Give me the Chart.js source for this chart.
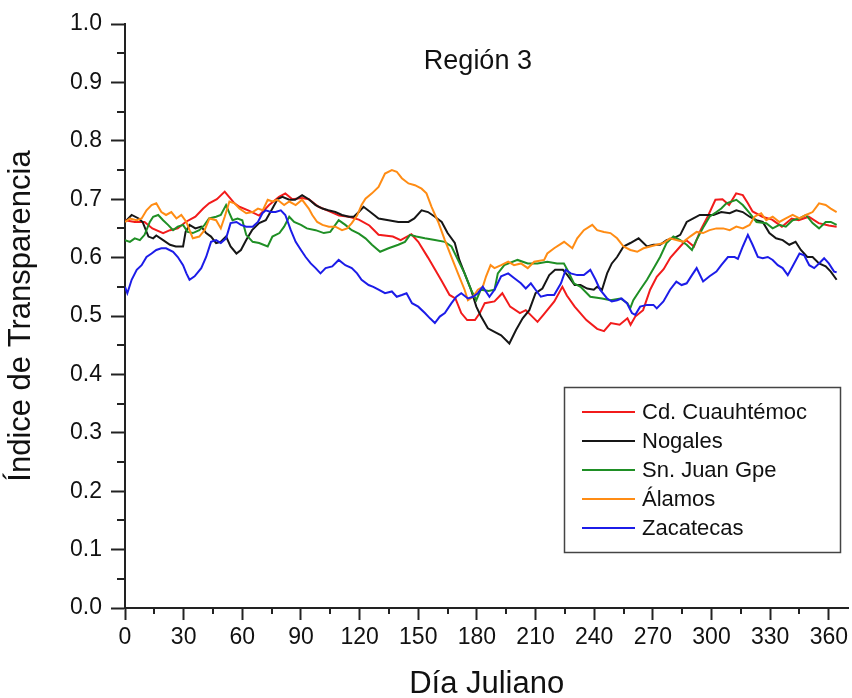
<!DOCTYPE html>
<html>
<head>
<meta charset="utf-8">
<script src="https://cdn.jsdelivr.net/npm/chart.js@4/dist/chart.umd.min.js"></script>
<style>
  html, body { margin: 0; padding: 0; background: #fff; }
  #wrap { width: 852px; height: 698px; }
</style>
</head>
<body>
<div id="wrap"><canvas id="chart" width="852" height="698"></canvas></div>
<script>
// values (day of year, transparency index)
const cuauhDays = [0, 5, 10, 14, 19.5, 23, 27, 31, 36, 40, 43, 47, 51, 53, 56, 58.5, 63.6, 68.6, 73.7, 78.8, 82, 85.6, 90.6, 94, 99, 104, 109.5, 114.6, 119.6, 125, 129.7, 137, 141, 146.5, 150, 155, 162, 166, 169, 172, 175, 179, 181.5, 184, 189, 193, 197, 202, 205, 211, 214, 219.6, 223.7, 226, 230, 236, 241.5, 245, 248.5, 253, 257, 258.6, 261, 265, 268.6, 272, 275.5, 279, 284, 287, 291, 294.4, 298, 302, 305.6, 309, 312.6, 316, 318.6, 321, 326, 331, 336, 341, 344.6, 349.7, 354.8, 360, 364];
const cuauhVals = [0.664, 0.661, 0.661, 0.650, 0.642, 0.647, 0.650, 0.661, 0.670, 0.684, 0.693, 0.700, 0.713, 0.705, 0.693, 0.687, 0.680, 0.672, 0.690, 0.704, 0.710, 0.700, 0.702, 0.700, 0.687, 0.680, 0.672, 0.670, 0.665, 0.655, 0.639, 0.636, 0.630, 0.640, 0.627, 0.600, 0.560, 0.536, 0.530, 0.505, 0.493, 0.493, 0.505, 0.522, 0.525, 0.539, 0.516, 0.505, 0.510, 0.490, 0.502, 0.525, 0.550, 0.535, 0.516, 0.493, 0.478, 0.474, 0.488, 0.485, 0.496, 0.485, 0.499, 0.510, 0.545, 0.567, 0.580, 0.600, 0.619, 0.630, 0.619, 0.647, 0.670, 0.699, 0.700, 0.690, 0.710, 0.707, 0.693, 0.679, 0.670, 0.665, 0.653, 0.667, 0.664, 0.670, 0.659, 0.655, 0.653];

const nogalesDays = [0, 3.4, 7, 9, 12, 14.4, 16, 19.5, 23, 26, 29.7, 31, 33, 36, 39, 41.5, 44, 46.6, 49, 51.7, 54, 57, 59.3, 62, 65, 68.6, 72, 75.4, 78, 80.5, 84, 87, 90.6, 94, 97.5, 101, 104, 107.6, 111, 114.5, 117, 119.6, 122, 126.3, 129.7, 134.8, 139.8, 145, 148, 151.7, 155, 158.5, 162, 165, 168.7, 171, 173.7, 177, 179.7, 182, 185.6, 189, 192.4, 196.6, 200, 203.4, 206.8, 210, 213.5, 217, 220, 224, 226.3, 230, 233, 236.4, 239.8, 241.5, 244, 246.6, 249, 251.7, 255, 258.5, 262.7, 267, 270.3, 273.7, 277, 280.5, 284, 287.3, 290.7, 294, 297.5, 301, 305, 309.3, 312.7, 316, 319.5, 323, 326.2, 329.6, 333, 336.4, 339.8, 343, 345.7, 349, 351.7, 355, 358.4, 361, 364];
const nogalesVals = [0.661, 0.673, 0.667, 0.661, 0.636, 0.633, 0.638, 0.630, 0.622, 0.619, 0.619, 0.644, 0.656, 0.650, 0.653, 0.642, 0.636, 0.625, 0.627, 0.636, 0.619, 0.607, 0.613, 0.630, 0.647, 0.659, 0.664, 0.684, 0.700, 0.704, 0.699, 0.699, 0.707, 0.700, 0.690, 0.684, 0.681, 0.678, 0.673, 0.670, 0.670, 0.678, 0.687, 0.676, 0.667, 0.664, 0.661, 0.661, 0.667, 0.681, 0.678, 0.670, 0.661, 0.642, 0.625, 0.596, 0.573, 0.545, 0.516, 0.500, 0.479, 0.473, 0.467, 0.453, 0.476, 0.496, 0.510, 0.539, 0.547, 0.570, 0.579, 0.579, 0.570, 0.553, 0.553, 0.547, 0.545, 0.550, 0.545, 0.573, 0.590, 0.601, 0.619, 0.625, 0.633, 0.619, 0.622, 0.622, 0.630, 0.633, 0.639, 0.661, 0.667, 0.673, 0.673, 0.673, 0.678, 0.676, 0.681, 0.678, 0.670, 0.664, 0.661, 0.642, 0.633, 0.630, 0.622, 0.627, 0.613, 0.601, 0.601, 0.590, 0.585, 0.576, 0.562];

const juanDays = [0, 2.5, 5, 7.6, 10, 12.7, 14.4, 17, 19.5, 22, 24.6, 27, 29.7, 32, 34.7, 38, 40.7, 43, 46.6, 49, 51.7, 53.4, 55, 57.6, 60, 62, 65.3, 68.6, 73, 75.4, 79, 81.4, 84, 86.5, 90, 93, 97.5, 101.7, 105, 109.3, 112.7, 116, 119.6, 123, 126.3, 130.5, 134.8, 139.8, 143.2, 145.8, 149, 153.4, 158.5, 163.6, 167, 170.3, 173.7, 177, 179.7, 182, 186, 189, 190.7, 194, 200.8, 206, 211, 216, 221, 224.5, 226.3, 229.6, 233, 238, 244, 248.3, 253.4, 257, 258.4, 260, 263.5, 267, 271, 273.7, 277, 280.5, 284, 287.3, 290, 292.3, 296, 299, 302.5, 305, 307.6, 312.7, 316, 319.5, 323, 328, 331.3, 334.7, 338, 341.5, 345, 348.3, 351.7, 355, 358.4, 361, 364];
const juanVals = [0.630, 0.627, 0.633, 0.630, 0.639, 0.661, 0.670, 0.673, 0.664, 0.656, 0.647, 0.653, 0.656, 0.644, 0.642, 0.647, 0.656, 0.667, 0.670, 0.673, 0.690, 0.676, 0.664, 0.667, 0.664, 0.639, 0.627, 0.625, 0.619, 0.636, 0.642, 0.653, 0.670, 0.661, 0.656, 0.650, 0.647, 0.642, 0.644, 0.664, 0.656, 0.647, 0.641, 0.633, 0.622, 0.610, 0.616, 0.622, 0.627, 0.639, 0.636, 0.633, 0.630, 0.627, 0.619, 0.596, 0.573, 0.545, 0.527, 0.545, 0.543, 0.545, 0.573, 0.587, 0.596, 0.590, 0.590, 0.593, 0.590, 0.590, 0.579, 0.556, 0.550, 0.533, 0.530, 0.527, 0.530, 0.522, 0.513, 0.527, 0.545, 0.562, 0.585, 0.601, 0.625, 0.636, 0.630, 0.622, 0.613, 0.630, 0.653, 0.670, 0.678, 0.684, 0.693, 0.699, 0.690, 0.676, 0.661, 0.659, 0.650, 0.656, 0.653, 0.664, 0.667, 0.673, 0.659, 0.650, 0.661, 0.661, 0.656];

const alamosDays = [0, 2.5, 6, 8.5, 11, 13.6, 16, 18.6, 21, 23.7, 26.3, 28.8, 31.4, 33, 34.7, 38, 40.7, 43.2, 46.6, 49, 51, 53.4, 56, 58.5, 62, 65.3, 68, 70.5, 73, 75.4, 78, 81.4, 84, 87.3, 90.6, 94, 95.8, 98.3, 101, 104.3, 107.6, 111, 113.6, 116, 118.7, 121, 123, 126.3, 129.7, 133, 136.5, 139, 141.6, 145, 148.3, 151.7, 154.2, 156.8, 160.2, 163.6, 167, 170.3, 173.7, 175.4, 178, 180.5, 183, 184.7, 187, 189, 192.4, 196, 199, 202.5, 206, 209.3, 214.4, 216, 219.5, 224.6, 228.8, 231.3, 234.7, 239, 241.5, 245, 248.3, 251.7, 255, 258.5, 262, 265.2, 268.6, 272, 275.4, 278.8, 282, 285.6, 289, 292.4, 295.7, 299, 302.5, 306, 309.3, 312.7, 316, 319.5, 322, 325.4, 328, 331.3, 334.7, 338, 341.5, 345, 348.3, 351.7, 355, 358.4, 361, 364];
const alamosVals = [0.661, 0.667, 0.664, 0.667, 0.681, 0.690, 0.693, 0.678, 0.673, 0.678, 0.667, 0.673, 0.661, 0.647, 0.633, 0.636, 0.647, 0.667, 0.664, 0.650, 0.670, 0.696, 0.693, 0.684, 0.676, 0.678, 0.684, 0.681, 0.699, 0.696, 0.699, 0.690, 0.696, 0.690, 0.699, 0.684, 0.673, 0.661, 0.656, 0.653, 0.653, 0.647, 0.650, 0.659, 0.672, 0.690, 0.701, 0.710, 0.721, 0.744, 0.750, 0.747, 0.736, 0.727, 0.724, 0.718, 0.710, 0.687, 0.661, 0.630, 0.601, 0.573, 0.545, 0.527, 0.533, 0.545, 0.550, 0.568, 0.587, 0.582, 0.587, 0.593, 0.587, 0.590, 0.582, 0.593, 0.596, 0.607, 0.616, 0.627, 0.616, 0.633, 0.647, 0.656, 0.647, 0.644, 0.642, 0.633, 0.619, 0.613, 0.610, 0.616, 0.619, 0.622, 0.625, 0.633, 0.630, 0.627, 0.636, 0.644, 0.642, 0.647, 0.650, 0.650, 0.647, 0.653, 0.650, 0.656, 0.670, 0.676, 0.664, 0.670, 0.661, 0.667, 0.673, 0.667, 0.673, 0.678, 0.693, 0.690, 0.684, 0.678];

const zacaDays = [0, 1.2, 3.4, 6, 8.5, 11, 13.6, 16, 18.6, 21, 24.6, 27, 29.7, 31.4, 33, 35.6, 39, 41.5, 44, 46.6, 49, 51.7, 54, 57, 59.3, 62, 65.3, 68, 70.3, 72, 74.6, 77, 79.7, 82, 84.8, 87.3, 90, 92.4, 95, 97.5, 100, 102.6, 106, 109.3, 112.7, 116, 118.7, 121, 124.6, 127, 129.7, 133, 136.5, 139, 141.6, 144, 146.8, 150, 153.4, 156, 158.5, 161, 163.6, 167, 169.5, 172, 175.4, 178, 180.5, 183, 186.4, 189, 192.4, 196, 199, 202.5, 205, 207.6, 210, 212.7, 216, 219.5, 223, 225.4, 228, 231.3, 234.7, 238, 240.7, 243, 246.6, 249, 251.7, 254, 256.7, 259.3, 261, 263.5, 267, 270.3, 272, 275.4, 278.8, 282, 284.7, 287.3, 290, 292.4, 295.7, 299, 302.5, 305, 308.4, 311.8, 313.5, 316, 318.6, 321, 323.7, 326.2, 328.8, 331.3, 333.9, 336.4, 339, 341.5, 345, 347.4, 350, 352.5, 355, 357.6, 360, 362.7, 364];
const zacaVals = [0.550, 0.539, 0.562, 0.579, 0.587, 0.601, 0.607, 0.613, 0.616, 0.616, 0.610, 0.601, 0.587, 0.573, 0.562, 0.568, 0.582, 0.601, 0.627, 0.630, 0.625, 0.633, 0.659, 0.661, 0.656, 0.653, 0.653, 0.661, 0.676, 0.681, 0.678, 0.678, 0.681, 0.673, 0.647, 0.627, 0.613, 0.601, 0.590, 0.582, 0.573, 0.582, 0.585, 0.596, 0.587, 0.582, 0.573, 0.562, 0.553, 0.550, 0.545, 0.539, 0.542, 0.533, 0.536, 0.539, 0.522, 0.516, 0.505, 0.496, 0.488, 0.499, 0.505, 0.522, 0.533, 0.539, 0.530, 0.533, 0.539, 0.550, 0.533, 0.545, 0.568, 0.573, 0.565, 0.556, 0.547, 0.556, 0.545, 0.533, 0.536, 0.536, 0.556, 0.579, 0.573, 0.570, 0.570, 0.579, 0.562, 0.545, 0.530, 0.525, 0.527, 0.530, 0.522, 0.505, 0.502, 0.516, 0.519, 0.519, 0.513, 0.525, 0.545, 0.559, 0.553, 0.556, 0.570, 0.582, 0.559, 0.568, 0.576, 0.587, 0.601, 0.601, 0.598, 0.619, 0.639, 0.622, 0.601, 0.599, 0.601, 0.596, 0.587, 0.582, 0.570, 0.585, 0.607, 0.604, 0.587, 0.582, 0.590, 0.599, 0.590, 0.576, 0.575];

const seriesNames = ['Cd. Cuauhtémoc', 'Nogales', 'Sn. Juan Gpe', 'Álamos', 'Zacatecas'];
const seriesColors = ['#f21b1b', '#161616', '#1f8f25', '#ff8c14', '#1c1ce8'];
const seriesDays = [cuauhDays, nogalesDays, juanDays, alamosDays, zacaDays];
const seriesVals = [cuauhVals, nogalesVals, juanVals, alamosVals, zacaVals];

const xTicksMinor = [15, 45, 75, 105, 135, 165, 195, 225, 255, 285, 315, 345];
const yTicksMinor = [0.05, 0.15, 0.25, 0.35, 0.45, 0.55, 0.65, 0.75, 0.85, 0.95];

const FONT = '"Liberation Sans", Arial, Helvetica, sans-serif';
const AXIS_COLOR = '#222';

// short minor tick marks + the in-plot title
const extrasPlugin = {
    id: 'extras',
    afterDraw(chart) {
        const ctx = chart.ctx;
        const xs = chart.scales.x, ys = chart.scales.y;
        const area = chart.chartArea;
        ctx.save();
        ctx.strokeStyle = AXIS_COLOR;
        ctx.lineWidth = 2;
        ctx.beginPath();
        xTicksMinor.forEach(v => {
            const px = Math.round(xs.getPixelForValue(v));
            ctx.moveTo(px, area.bottom);
            ctx.lineTo(px, area.bottom + 6);
        });
        yTicksMinor.forEach(v => {
            const py = Math.round(ys.getPixelForValue(v));
            ctx.moveTo(area.left, py);
            ctx.lineTo(area.left - 8, py);
        });
        ctx.stroke();

        ctx.fillStyle = '#111';
        ctx.font = '27px ' + FONT;
        ctx.textAlign = 'center';
        ctx.textBaseline = 'middle';
        ctx.fillText('Región 3', xs.getPixelForValue(180.5), ys.getPixelForValue(0.935));
        ctx.restore();
    }
};

// boxed legend inside the plot, lower right
const boxLegendPlugin = {
    id: 'boxLegend',
    afterDraw(chart) {
        const ctx = chart.ctx;
        const left = 564, top = 387, w = 276, h = 165;
        const rowH = 29, firstRow = 412;
        ctx.save();
        ctx.fillStyle = '#fff';
        ctx.fillRect(left, top, w, h);
        ctx.strokeStyle = '#444';
        ctx.lineWidth = 1.5;
        ctx.strokeRect(left + 0.5, top + 0.5, w, h);
        ctx.font = '22px ' + FONT;
        ctx.textBaseline = 'middle';
        ctx.textAlign = 'left';
        chart.data.datasets.forEach((ds, i) => {
            const y = firstRow + i * rowH;
            ctx.strokeStyle = ds.borderColor;
            ctx.lineWidth = 2;
            ctx.beginPath();
            ctx.moveTo(582, y);
            ctx.lineTo(635, y);
            ctx.stroke();
            ctx.fillStyle = '#111';
            ctx.fillText(ds.label, 642, y + 1);
        });
        ctx.restore();
    }
};

const datasets = seriesNames.map((name, i) => ({
    label: name,
    data: seriesDays[i].map((d, j) => ({ x: d, y: seriesVals[i][j] })),
    borderColor: seriesColors[i],
    backgroundColor: seriesColors[i],
    borderWidth: 2,
    pointRadius: 0,
    tension: 0,
    fill: false,
    order: seriesNames.length - i
}));

new Chart(document.getElementById('chart'), {
    type: 'line',
    data: { datasets },
    options: {
        responsive: false,
        animation: false,
        devicePixelRatio: 1,
        layout: { padding: { top: 24, right: 0, left: 0, bottom: 0 } },
        plugins: {
            legend: { display: false },
            tooltip: { enabled: false }
        },
        scales: {
            x: {
                type: 'linear',
                min: 0,
                max: 370,
                afterFit(scale) { scale.height = 90; },
                ticks: {
                    stepSize: 30,
                    includeBounds: false,
                    autoSkip: false,
                    maxRotation: 0,
                    padding: 4,
                    color: '#111',
                    font: { family: FONT, size: 23 }
                },
                grid: { drawOnChartArea: false, tickLength: 12, tickWidth: 2, tickColor: AXIS_COLOR },
                border: { color: AXIS_COLOR, width: 2 },
                title: {
                    display: true,
                    text: 'Día Juliano',
                    color: '#111',
                    padding: 0,
                    font: { family: FONT, size: 31, lineHeight: 0.85 }
                }
            },
            y: {
                min: 0,
                max: 1,
                afterFit(scale) { scale.width = 125; },
                ticks: {
                    stepSize: 0.1,
                    padding: 9,
                    color: '#111',
                    font: { family: FONT, size: 23 },
                    callback: v => v.toFixed(1)
                },
                grid: { drawOnChartArea: false, tickLength: 14, tickWidth: 2, tickColor: AXIS_COLOR },
                border: { color: AXIS_COLOR, width: 2 },
                title: {
                    display: true,
                    text: 'Índice de Transparencia',
                    color: '#111',
                    padding: 6,
                    font: { family: FONT, size: 31, lineHeight: 1.0 }
                }
            }
        }
    },
    plugins: [extrasPlugin, boxLegendPlugin]
});
</script>
</body>
</html>
